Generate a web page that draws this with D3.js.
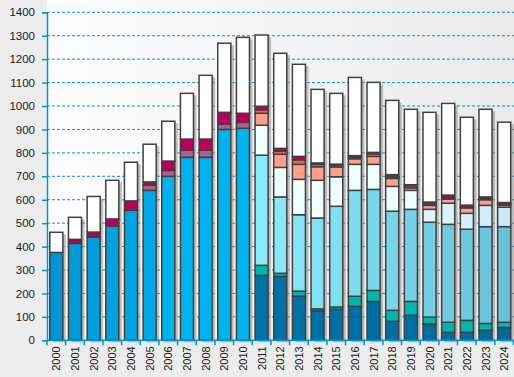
<!DOCTYPE html>
<html>
<head>
<meta charset="utf-8">
<script src="https://cdn.jsdelivr.net/npm/d3@7"></script>
<style>
  body { margin: 0; background: #ececec; }
  svg { display: block; font-family: "Liberation Sans", Arial, sans-serif; }
</style>
</head>
<body>
<div id="chart"></div>
<script>
// values, bottom segment first
const years = ["2000","2001","2002","2003","2004","2005","2006","2007","2008","2009","2010","2011","2012","2013","2014","2015","2016","2017","2018","2019","2020","2021","2022","2023","2024"];
const base      = [375,414,440,487,555,640,700,781,781,900,905,277,273,188,125,132,145,166, 81,107, 70, 34, 34, 43, 55];
const teal      = [  0,  0,  0,  0,  0,  0,  0,  0,  0,  0,  0, 43, 13, 22,  9, 10, 43, 47, 47, 59, 29, 43, 51, 29, 22];
const lightCyan = [  0,  0,  0,  0,  0,  0,  0,  0,  0,  0,  0,470,326,326,388,430,452,431,423,393,405,418,389,413,408];
const paleCyan  = [  0,  0,  0,  0,  0,  0,  0,  0,  0,  0,  0,128,126,151,161,126,111,107,106, 81, 55, 90, 68, 91, 83];
const salmon    = [  0,  0,  0,  0,  0,  0,  0,  0,  0,  0,  0, 51, 56, 64, 58, 42, 24, 34, 34, 11, 17, 18, 23, 24,  9];
const orange    = [  0,  0,  0,  0,  0,  0,  0,  0,  0,  0,  0, 15, 13, 19, 10,  7,  7, 11,  7,  9,  7,  3,  4,  4,  4];
const mauve     = [  0,  0,  0,  0,  0, 22, 25, 30, 30, 22, 25,  0,  0,  0,  0,  0,  0,  0,  0,  0,  0,  0,  0,  0,  0];
const crimson   = [  0, 17, 22, 31, 40, 14, 40, 48, 48, 51, 39, 15, 12, 15,  6,  5,  6,  6,  9,  4,  7, 14,  8,  8,  7];
const rest      = [ 86, 94,152,165,165,161,170,195,272,295,324,304,406,393,314,302,334,299,317,322,383,391,375,374,343];
const yTicks = [0,100,200,300,400,500,600,700,800,900,1000,1100,1200,1300,1400];

const keys = ["base","teal","lightCyan","paleCyan","salmon","orange","mauve","crimson","rest"];
const table = years.map((y, i) => ({
  year: y, base: base[i], teal: teal[i], lightCyan: lightCyan[i], paleCyan: paleCyan[i],
  salmon: salmon[i], orange: orange[i], mauve: mauve[i], crimson: crimson[i], rest: rest[i]
}));

// per-bar shading drifts a little from year to year
function colorFor(key, i) {
  switch (key) {
    case "base":
      if (i <= 5) return d3.interpolateRgb("#0096d4", "#00a8e6")(i / 5);
      if (i <= 10) return "#00b2ee";
      return d3.interpolateRgb("#0072a8", "#006a9c")((i - 11) / 13);
    case "teal": return "#00b5ac";
    case "lightCyan": return d3.interpolateRgb("#8aeafc", "#6ac2d8")((i - 11) / 13);
    case "paleCyan": return i < 20 ? "#effeff" : d3.interpolateRgb("#ddf6ff", "#cce8fb")((i - 20) / 4);
    case "salmon": return "#ff9f8c";
    case "orange": return "#f26440";
    case "mauve": return "#b85c8a";
    case "crimson": return i >= 20 ? "#9c0a4c" : "#b8005a";
    default: return "#ffffff";
  }
}

const W = 514, H = 377;
const mLeft = 47, mRight = 513.5, mTop = 12.3, mBottom = 340.3;

const svg = d3.select("#chart").append("svg")
  .attr("width", W).attr("height", H);

const defs = svg.append("defs");
const bg = defs.append("linearGradient").attr("id", "bg")
  .attr("x1", "0%").attr("x2", "100%").attr("y1", "0%").attr("y2", "0%");
bg.append("stop").attr("offset", "0%").attr("stop-color", "#fdfdfd");
bg.append("stop").attr("offset", "100%").attr("stop-color", "#eaeaea");

svg.append("rect").attr("width", W).attr("height", H).attr("fill", "#ececec");
svg.append("rect")
  .attr("x", mLeft).attr("y", 0)
  .attr("width", W - mLeft).attr("height", mBottom)
  .attr("fill", "url(#bg)");

const x = d3.scaleBand()
  .domain(years)
  .range([mLeft, mRight])
  .paddingInner(0.3)
  .paddingOuter(0.15);

const y = d3.scaleLinear()
  .domain([0, 1400])
  .range([mBottom, mTop]);

// dashed gridlines
svg.append("g")
  .selectAll("line")
  .data(yTicks.filter(d => d > 0))
  .join("line")
  .attr("x1", mLeft).attr("x2", W)
  .attr("y1", d => y(d)).attr("y2", d => y(d))
  .attr("stroke", "#0093d3")
  .attr("stroke-width", 1)
  .attr("stroke-dasharray", "3,2");

const stack = d3.stack().keys(keys);
const series = stack(table);

const totalOf = d => keys.reduce((s, k) => s + d[k], 0);

// drop shadow behind each bar
svg.append("g")
  .selectAll("rect")
  .data(table)
  .join("rect")
  .attr("x", d => x(d.year) + 3)
  .attr("y", d => y(totalOf(d)) + 2)
  .attr("width", x.bandwidth())
  .attr("height", d => mBottom - y(totalOf(d)))
  .attr("fill", "#8c8c8c")
  .attr("opacity", 0.55);

const bars = svg.append("g");
series.forEach(s => {
  bars.append("g")
    .selectAll("rect")
    .data(s.filter(d => d[1] - d[0] > 0))
    .join("rect")
    .attr("x", d => x(d.data.year))
    .attr("y", d => y(d[1]))
    .attr("width", x.bandwidth())
    .attr("height", d => y(d[0]) - y(d[1]))
    .attr("fill", d => colorFor(s.key, years.indexOf(d.data.year)))
    .attr("stroke", "#404040")
    .attr("stroke-width", 1.5);
});

// y axis
const yAxis = svg.append("g")
  .attr("transform", `translate(${mLeft},0)`)
  .call(d3.axisLeft(y).tickValues(yTicks).tickFormat(d3.format("d")).tickSize(5).tickPadding(7));
yAxis.select(".domain").attr("stroke", "#0093d3").attr("stroke-width", 1.5);
yAxis.selectAll(".tick line").attr("stroke", "#0093d3").attr("stroke-width", 1.5);
yAxis.selectAll("text").attr("fill", "#1a1a1a").style("font-size", "11.5px");

// x axis: ticks sit between bars
const xg = svg.append("g").attr("transform", `translate(0,${mBottom})`);
xg.append("line")
  .attr("x1", mLeft).attr("x2", mRight)
  .attr("stroke", "#0093d3").attr("stroke-width", 1.5);
xg.selectAll(".sep")
  .data(d3.range(years.length + 1))
  .join("line")
  .attr("class", "sep")
  .attr("x1", i => mLeft + i * x.step())
  .attr("x2", i => mLeft + i * x.step())
  .attr("y1", 0).attr("y2", 5)
  .attr("stroke", "#0093d3").attr("stroke-width", 1.5);
xg.selectAll("text")
  .data(years)
  .join("text")
  .attr("transform", d => `translate(${x(d) + x.bandwidth() / 2 + 4},6) rotate(-90)`)
  .attr("text-anchor", "end")
  .attr("fill", "#1a1a1a")
  .style("font-size", "11px")
  .text(d => d);
</script>
</body>
</html>
